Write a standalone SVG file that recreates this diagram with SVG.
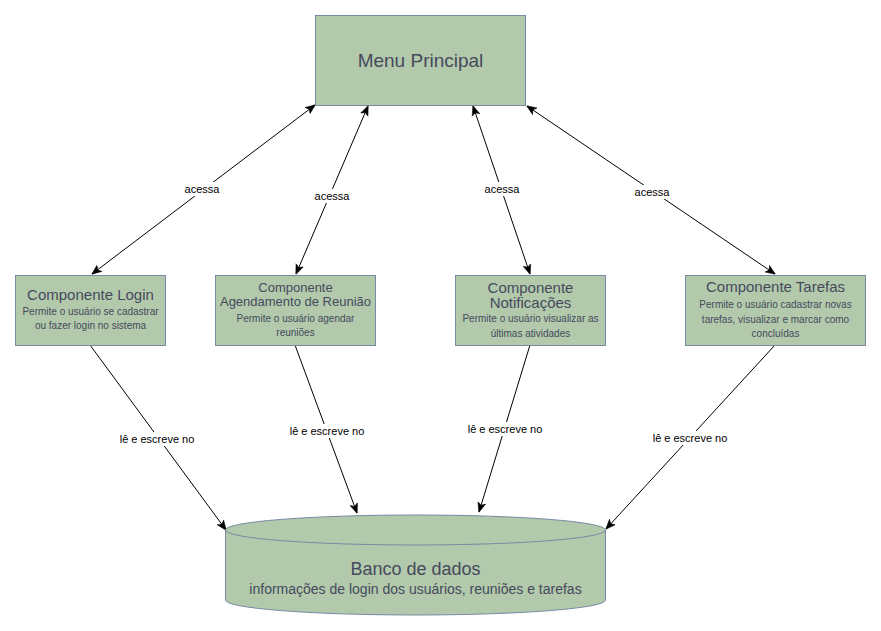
<svg xmlns="http://www.w3.org/2000/svg" width="881" height="631" viewBox="0 0 881 631">
<defs>
<style>
.box{fill:#b2c9ab;stroke:#788aa3;stroke-width:1}
.t{font-family:"Liberation Sans",Arial,sans-serif;fill:#46495d;text-anchor:middle;dominant-baseline:central}
.edge{stroke:#000;stroke-width:1;fill:none}
.lbl{font-family:"Liberation Sans",Arial,sans-serif;font-size:11px;fill:#000;text-anchor:middle;dominant-baseline:central}
.lb{fill:#fff}
</style>
<marker id="arr" viewBox="0 0 10 10" refX="9.5" refY="5" markerWidth="10" markerHeight="10" markerUnits="userSpaceOnUse" orient="auto-start-reverse">
<path d="M0,1 L10,5 L0,9 L2.5,5 z" fill="#000" stroke="#000" stroke-width="0.5"/>
</marker>
</defs>
<rect width="881" height="631" fill="#fff"/>
<g id="connectors">
<line class="edge" x1="92" y1="274" x2="315" y2="105" marker-start="url(#arr)" marker-end="url(#arr)"/>
<line class="edge" x1="296" y1="274" x2="368" y2="106" marker-start="url(#arr)" marker-end="url(#arr)"/>
<line class="edge" x1="530" y1="274" x2="473" y2="106" marker-start="url(#arr)" marker-end="url(#arr)"/>
<line class="edge" x1="775" y1="274" x2="527" y2="106" marker-start="url(#arr)" marker-end="url(#arr)"/>
<line class="edge" x1="90" y1="345" x2="226" y2="530" marker-end="url(#arr)"/>
<line class="edge" x1="295" y1="345" x2="357" y2="513" marker-end="url(#arr)"/>
<line class="edge" x1="530" y1="345" x2="479" y2="512" marker-end="url(#arr)"/>
<line class="edge" x1="775" y1="345" x2="606" y2="529" marker-end="url(#arr)"/>
<rect class="lb" x="185" y="182" width="34" height="14"/>
<text class="lbl" x="202" y="189">acessa</text>
<rect class="lb" x="315" y="189" width="34" height="14"/>
<text class="lbl" x="332" y="196">acessa</text>
<rect class="lb" x="485" y="182" width="34" height="14"/>
<text class="lbl" x="502" y="189">acessa</text>
<rect class="lb" x="635" y="185" width="34" height="14"/>
<text class="lbl" x="652" y="192">acessa</text>
<rect class="lb" x="118" y="432" width="78" height="14"/>
<text class="lbl" x="157" y="439">lê e escreve no</text>
<rect class="lb" x="288" y="424" width="78" height="14"/>
<text class="lbl" x="327" y="431">lê e escreve no</text>
<rect class="lb" x="466" y="422" width="78" height="14"/>
<text class="lbl" x="505" y="429">lê e escreve no</text>
<rect class="lb" x="651" y="431" width="78" height="14"/>
<text class="lbl" x="690" y="438">lê e escreve no</text>
</g>
<g id="menu">
<rect class="box" x="315.5" y="15.5" width="210" height="90"/>
<text class="t" x="420.5" y="60" font-size="19">Menu Principal</text>
</g>
<g id="login">
<rect class="box" x="15.5" y="275.5" width="150" height="70"/>
<text class="t" x="90.5" y="294" font-size="15">Componente Login</text>
<text class="t" x="90.5" y="311.5" font-size="10">Permite o usuário se cadastrar</text>
<text class="t" x="90.5" y="325.5" font-size="10">ou fazer login no sistema</text>
</g>
<g id="agendamento">
<rect class="box" x="215.5" y="275.5" width="160" height="70"/>
<text class="t" x="295.5" y="287.3" font-size="13">Componente</text>
<text class="t" x="295.5" y="301.5" font-size="13">Agendamento de Reunião</text>
<text class="t" x="295.5" y="318" font-size="10">Permite o usuário agendar</text>
<text class="t" x="295.5" y="332.3" font-size="10">reuniões</text>
</g>
<g id="notificacoes">
<rect class="box" x="455.5" y="275.5" width="150" height="70"/>
<text class="t" x="530.5" y="287.5" font-size="15">Componente</text>
<text class="t" x="530.5" y="302" font-size="15">Notificações</text>
<text class="t" x="530.5" y="318.5" font-size="10">Permite o usuário visualizar as</text>
<text class="t" x="530.5" y="333.3" font-size="10">últimas atividades</text>
</g>
<g id="tarefas">
<rect class="box" x="685.5" y="275.5" width="180" height="70"/>
<text class="t" x="775.5" y="286.7" font-size="15">Componente Tarefas</text>
<text class="t" x="775.5" y="304.3" font-size="10">Permite o usuário cadastrar novas</text>
<text class="t" x="775.5" y="319" font-size="10">tarefas, visualizar e marcar como</text>
<text class="t" x="775.5" y="333.3" font-size="10">concluídas</text>
</g>
<g id="banco">
<path class="box" d="M225.5,530 L225.5,600 A190,15 0 0 0 605.5,600 L605.5,530 A190,15 0 0 0 225.5,530 Z"/>
<path class="box" d="M225.5,530 A190,15 0 0 0 605.5,530" fill="none"/>
<text class="t" x="415.5" y="569" font-size="18">Banco de dados</text>
<text class="t" x="415.5" y="589" font-size="14">informações de login dos usuários, reuniões e tarefas</text>
</g>
</svg>
